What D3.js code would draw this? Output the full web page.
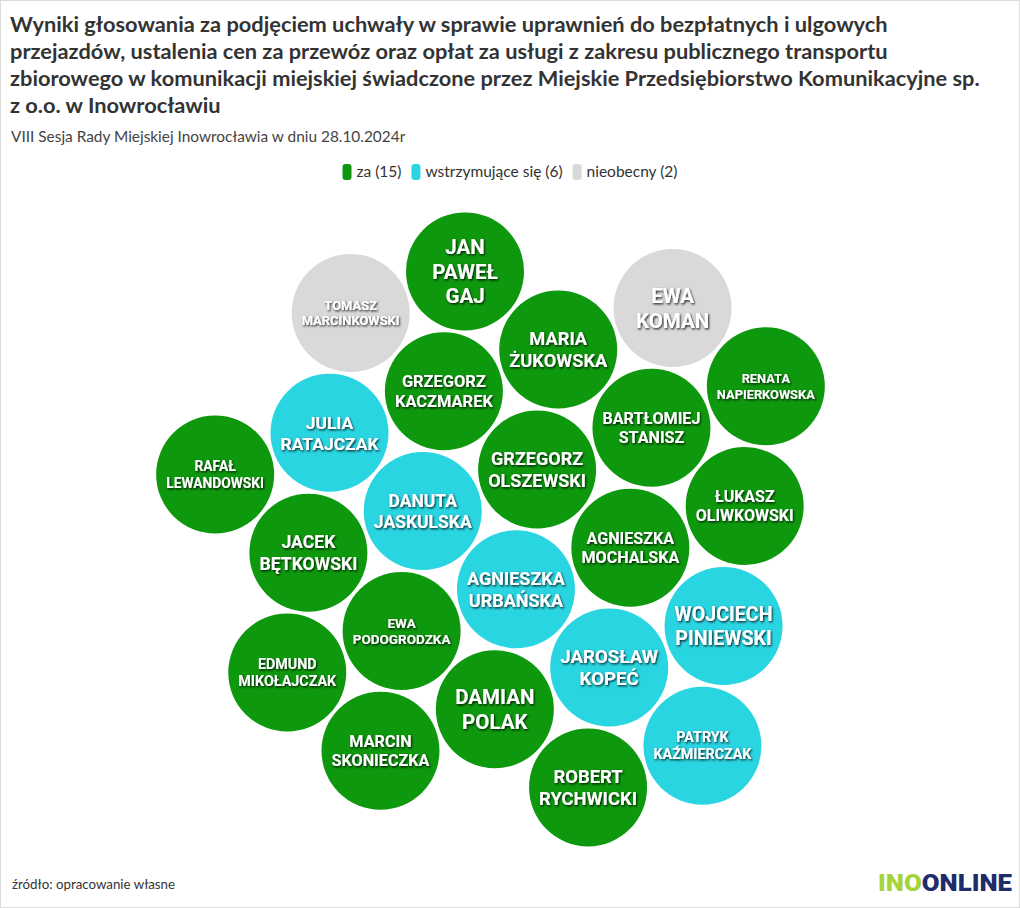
<!DOCTYPE html>
<html lang="pl">
<head>
<meta charset="utf-8">
<script src="https://cdn.jsdelivr.net/npm/d3@7"></script>
<style>
  html, body { margin: 0; padding: 0; background: #fff; }
  svg { display: block; }
</style>
</head>
<body>
<svg id="chart" width="1020" height="908"></svg>
<script>
// ---------------- DATA ----------------
const titleLines = [
  "Wyniki głosowania za podjęciem uchwały w sprawie uprawnień do bezpłatnych i ulgowych",
  "przejazdów, ustalenia cen za przewóz oraz opłat za usługi z zakresu publicznego transportu",
  "zbiorowego w komunikacji miejskiej świadczone przez Miejskie Przedsiębiorstwo Komunikacyjne sp.",
  "z o.o. w Inowrocławiu"
];
const subtitle = "VIII Sesja Rady Miejskiej Inowrocławia w dniu 28.10.2024r";
const sourceNote = "źródło: opracowanie własne";

const voteCategories = ["za", "wstrzymujące się", "nieobecny"];
const voteColors = ["#0e980e", "#2ad5e2", "#d9d9d9"];

// councillors in packing order (filled from the centre of the cluster outwards)
const councillors = [
  "Grzegorz Olszewski", "Agnieszka Urbańska", "Danuta Jaskulska", "Agnieszka Mochalska",
  "Grzegorz Kaczmarek", "Ewa Podogrodzka", "Bartłomiej Stanisz", "Jarosław Kopeć",
  "Maria Żukowska", "Damian Polak", "Julia Ratajczak", "Jacek Bętkowski",
  "Łukasz Oliwkowski", "Wojciech Piniewski", "Jan Paweł Gaj", "Marcin Skonieczka",
  "Tomasz Marcinkowski", "Edmund Mikołajczak", "Ewa Koman", "Robert Rychwicki",
  "Renata Napierkowska", "Patryk Kaźmierczak", "Rafał Lewandowski"
];
const votes = [
  "za", "wstrzymujące się", "wstrzymujące się", "za",
  "za", "za", "za", "wstrzymujące się",
  "za", "za", "wstrzymujące się", "za",
  "za", "wstrzymujące się", "za", "za",
  "nieobecny", "za", "nieobecny", "za",
  "za", "wstrzymujące się", "za"
];

// ---------------- LAYOUT ----------------
const W = 1020, H = 908;
const svg = d3.select("#chart");
const FONT = "'Source Sans Pro', Lato, 'Open Sans', sans-serif";

svg.append("rect").attr("x", 0.5).attr("y", 0.5).attr("width", W - 1).attr("height", H - 1)
  .attr("fill", "#fff").attr("stroke", "#dcdcdc");

// title
const title = svg.append("text").attr("font-family", FONT).attr("font-weight", 700)
  .attr("font-size", 21.8).attr("fill", "#333");
title.selectAll("tspan").data(titleLines).join("tspan")
  .attr("x", 10).attr("y", (d, i) => 32 + i * 27).text(d => d);

svg.append("text").attr("x", 11).attr("y", 142).attr("font-family", FONT)
  .attr("font-size", 15.4).attr("fill", "#444").text(subtitle);

// legend
const color = d3.scaleOrdinal().domain(voteCategories).range(voteColors);
const counts = voteCategories.map(c => votes.filter(v => v === c).length);
const legend = svg.append("g");
let lx = 0;
voteCategories.forEach((c, i) => {
  const g = legend.append("g").attr("transform", `translate(${lx},0)`);
  g.append("rect").attr("x", 0).attr("y", -13).attr("width", 9).attr("height", 16).attr("rx", 3)
    .attr("fill", color(c));
  const t = g.append("text").attr("x", 14).attr("y", 0).attr("font-family", FONT)
    .attr("font-size", 15.5).attr("fill", "#333").text(`${c} (${counts[i]})`);
  lx += 14 + t.node().getComputedTextLength() + 10;
});
const lw = lx - 10;
legend.attr("transform", `translate(${(W - lw) / 2},177)`);

// hexagonal packing: cells of a triangular lattice sorted by distance to the pack centre
const radius = 59, spacing = 121.7;
const angA = 40 * Math.PI / 180, angB = 100 * Math.PI / 180;
const packOffset = [-3 / 23, 13 / 23];   // centre of the pack in lattice units
const cells = [];
for (let i = -6; i <= 6; i++) for (let j = -6; j <= 6; j++) {
  const u = i - packOffset[0], v = j - packOffset[1];
  cells.push({ i, j, u, v, d: Math.round((u * u + v * v + u * v) * 1e6) });
}
cells.sort((a, b) => a.d - b.d || a.j - b.j);

const cx = 513, cy = 527;
const x = d3.scaleLinear().domain([0, 1]).range([cx, cx + spacing]);
const y = d3.scaleLinear().domain([0, 1]).range([cy, cy + spacing]);

const nodes = councillors.map((name, k) => {
  const c = cells[k];
  const px = c.u * Math.cos(angA) + c.v * Math.cos(angB);
  const py = c.u * Math.sin(angA) + c.v * Math.sin(angB);
  return { name, vote: votes[k], x: x(px), y: y(py) };
});

const defs = svg.append("defs");
const f = defs.append("filter").attr("id", "shadow").attr("x", "-20%").attr("y", "-20%")
  .attr("width", "140%").attr("height", "140%");
f.append("feDropShadow").attr("dx", 1).attr("dy", 1.3).attr("stdDeviation", 0.9)
  .attr("flood-color", "#000").attr("flood-opacity", 0.85);

const bubbles = svg.append("g").selectAll("g").data(nodes).join("g")
  .attr("transform", d => `translate(${d.x},${d.y})`);
bubbles.append("circle").attr("r", radius).attr("fill", d => color(d.vote));

const LFONT = "Roboto, 'Open Sans', sans-serif";
bubbles.each(function (d) {
  const g = d3.select(this);
  const words = d.name.toUpperCase().split(" ");
  const t = g.append("text").attr("font-family", LFONT).attr("font-weight", 700)
    .attr("fill", "#fff").attr("text-anchor", "middle").attr("filter", "url(#shadow)")
    .attr("font-size", 10);
  const spans = t.selectAll("tspan").data(words).join("tspan").attr("x", 0).text(w => w);
  let maxW = 0;
  spans.each(function () { maxW = Math.max(maxW, this.getComputedTextLength()); });
  const fs = Math.min(20.5, 10 * 98 / maxW);
  t.attr("font-size", fs);
  const lh = fs * 1.2;
  const n = words.length;
  spans.attr("y", (w, i) => (i - (n - 1) / 2) * lh + fs * 0.36);
});

// footer
svg.append("text").attr("x", 12).attr("y", 889).attr("font-family", FONT)
  .attr("font-size", 13.3).attr("fill", "#333").text(sourceNote);

const logo = svg.append("text").attr("x", 878).attr("y", 891).attr("font-family", LFONT)
  .attr("font-weight", 900).attr("font-size", 24).attr("textLength", 134)
  .attr("lengthAdjust", "spacingAndGlyphs");
logo.append("tspan").attr("fill", "#a4d43a").text("INO");
logo.append("tspan").attr("fill", "#1f2c6c").text("ONLINE");
</script>
</body>
</html>
